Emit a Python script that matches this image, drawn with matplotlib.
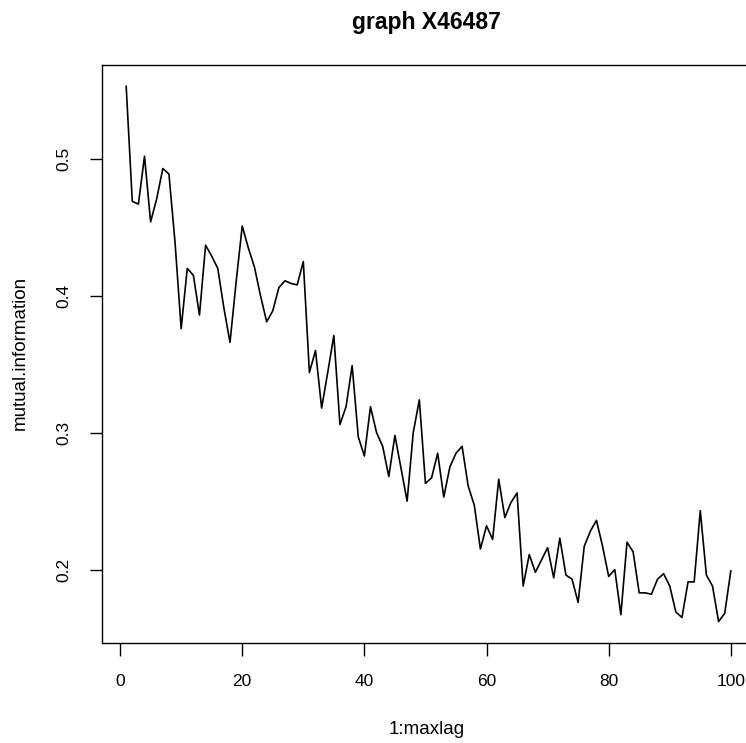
import matplotlib
matplotlib.use('Agg')
import matplotlib.pyplot as plt

# 数据：滞后 1..100 的互信息
lags = list(range(1, 101))
mutual_information = [
    0.553, 0.469, 0.467, 0.502, 0.454, 0.471, 0.493, 0.489, 0.439, 0.376,
    0.420, 0.415, 0.386, 0.437, 0.429, 0.420, 0.391, 0.366, 0.410, 0.451,
    0.435, 0.421, 0.400, 0.381, 0.389, 0.406, 0.411, 0.409, 0.408, 0.425,
    0.344, 0.360, 0.318, 0.344, 0.371, 0.306, 0.319, 0.349, 0.297, 0.283,
    0.319, 0.300, 0.290, 0.268, 0.298, 0.274, 0.250, 0.300, 0.324, 0.263,
    0.267, 0.285, 0.253, 0.275, 0.285, 0.290, 0.261, 0.247, 0.215, 0.232,
    0.222, 0.266, 0.238, 0.249, 0.256, 0.188, 0.211, 0.198, 0.207, 0.216,
    0.194, 0.223, 0.196, 0.193, 0.176, 0.217, 0.228, 0.236, 0.217, 0.195,
    0.200, 0.167, 0.220, 0.213, 0.183, 0.183, 0.182, 0.193, 0.197, 0.188,
    0.169, 0.165, 0.191, 0.191, 0.243, 0.196, 0.188, 0.162, 0.168, 0.199,
]
x_ticks = [0, 20, 40, 60, 80, 100]
y_ticks = [0.2, 0.3, 0.4, 0.5]

plt.rcParams['font.family'] = ['Liberation Sans', 'DejaVu Sans']

fig = plt.figure(figsize=(7.46, 7.43), dpi=100)
# 右边框在原图之外，所以坐标轴宽度超出画布
ax = fig.add_axes([102 / 746, 1 - 643 / 743, 653 / 746, 578 / 743])

ax.plot(lags, mutual_information, color='black', linewidth=1.2)
ax.margins(x=0.04, y=0.04)

ax.set_xticks(x_ticks)
ax.set_yticks(y_ticks)
ax.set_yticklabels([f'{v:.1f}' for v in y_ticks], rotation=90, va='center')
ax.tick_params(direction='out', length=9, width=1, labelsize=12.5, pad=13,
               color='black', labelcolor='black')

for s in ax.spines.values():
    s.set_linewidth(1.0)
    s.set_color('black')

fig.text(0.5715, 1 - 22 / 743, 'graph X46487', ha='center', va='center',
         fontsize=16.5, fontweight='bold')
fig.text(0.5715, 1 - 730 / 743, '1:maxlag', ha='center', va='center', fontsize=13.5)
fig.text(20 / 746, 1 - 353 / 743, 'mutual.information', ha='center', va='center',
         fontsize=13.5, rotation=90)

fig.savefig('out.png', dpi=100)
